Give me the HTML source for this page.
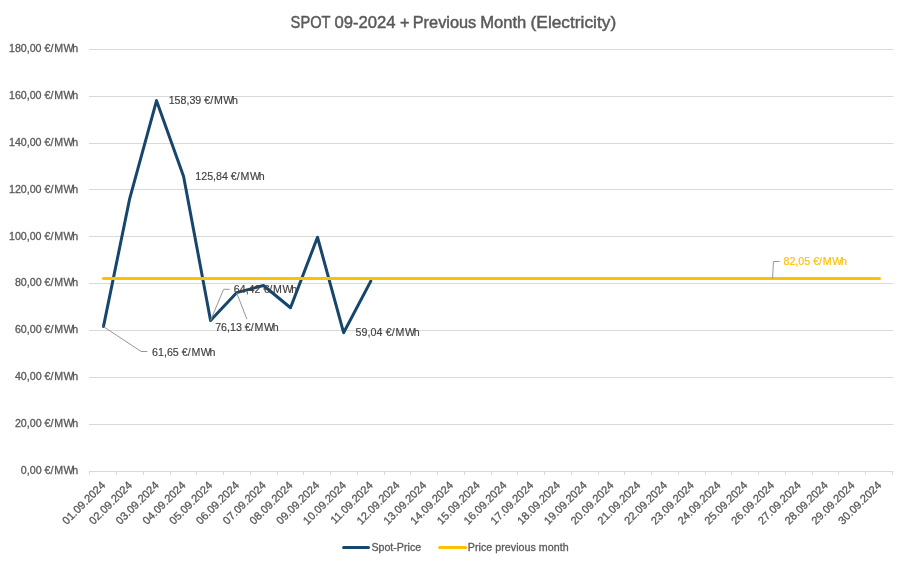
<!DOCTYPE html>
<html><head><meta charset="utf-8"><title>SPOT 09-2024 + Previous Month (Electricity)</title>
<style>
html,body{margin:0;padding:0;background:#fff;}
body{width:907px;height:567px;overflow:hidden;}
svg{display:block;font-family:"Liberation Sans",Arial,sans-serif;}
.ax{font-size:10.67px;fill:#595959;stroke:#595959;stroke-width:0.3px;}
.dl{font-size:10.67px;fill:#404040;stroke:#404040;stroke-width:0.15px;}
.grid{stroke:#d9d9d9;stroke-width:1;fill:none;}
.lead{stroke:#969696;stroke-width:1;fill:none;}
</style></head><body>
<svg width="907" height="567" viewBox="0 0 907 567">
<rect x="0" y="0" width="907" height="567" fill="#ffffff"/>
<text transform="translate(290.60,27.8) scale(0.9070,1)" font-size="16.2" fill="#595959" stroke="#595959" stroke-width="0.45">SPOT</text>
<text transform="translate(334.40,27.8) scale(1.0305,1)" font-size="16.2" fill="#595959" stroke="#595959" stroke-width="0.45">09-2024</text>
<text transform="translate(399.90,27.8) scale(1.0000,1)" font-size="16.2" fill="#595959" stroke="#595959" stroke-width="0.45">+</text>
<text transform="translate(412.70,27.8) scale(1.0098,1)" font-size="16.2" fill="#595959" stroke="#595959" stroke-width="0.45">Previous</text>
<text transform="translate(480.20,27.8) scale(1.0256,1)" font-size="16.2" fill="#595959" stroke="#595959" stroke-width="0.45">Month</text>
<text transform="translate(530.60,27.8) scale(1.0692,1)" font-size="16.2" fill="#595959" stroke="#595959" stroke-width="0.45">(Electricity)</text>
<line class="grid" x1="89.00" y1="471.50" x2="893.00" y2="471.50"/>
<text class="ax" x="78.3" y="473.80" text-anchor="end">0,00 €/<tspan dx="0.8">M</tspan><tspan dx="0.5">W</tspan><tspan dx="-1.3">h</tspan></text>
<line class="grid" x1="89.00" y1="424.50" x2="893.00" y2="424.50"/>
<text class="ax" x="78.3" y="426.80" text-anchor="end">20,00 €/<tspan dx="0.8">M</tspan><tspan dx="0.5">W</tspan><tspan dx="-1.3">h</tspan></text>
<line class="grid" x1="89.00" y1="377.50" x2="893.00" y2="377.50"/>
<text class="ax" x="78.3" y="379.80" text-anchor="end">40,00 €/<tspan dx="0.8">M</tspan><tspan dx="0.5">W</tspan><tspan dx="-1.3">h</tspan></text>
<line class="grid" x1="89.00" y1="330.50" x2="893.00" y2="330.50"/>
<text class="ax" x="78.3" y="332.80" text-anchor="end">60,00 €/<tspan dx="0.8">M</tspan><tspan dx="0.5">W</tspan><tspan dx="-1.3">h</tspan></text>
<line class="grid" x1="89.00" y1="283.50" x2="893.00" y2="283.50"/>
<text class="ax" x="78.3" y="285.80" text-anchor="end">80,00 €/<tspan dx="0.8">M</tspan><tspan dx="0.5">W</tspan><tspan dx="-1.3">h</tspan></text>
<line class="grid" x1="89.00" y1="236.50" x2="893.00" y2="236.50"/>
<text class="ax" x="78.3" y="239.80" text-anchor="end">100,00 €/<tspan dx="0.8">M</tspan><tspan dx="0.5">W</tspan><tspan dx="-1.3">h</tspan></text>
<line class="grid" x1="89.00" y1="189.50" x2="893.00" y2="189.50"/>
<text class="ax" x="78.3" y="192.80" text-anchor="end">120,00 €/<tspan dx="0.8">M</tspan><tspan dx="0.5">W</tspan><tspan dx="-1.3">h</tspan></text>
<line class="grid" x1="89.00" y1="143.50" x2="893.00" y2="143.50"/>
<text class="ax" x="78.3" y="145.80" text-anchor="end">140,00 €/<tspan dx="0.8">M</tspan><tspan dx="0.5">W</tspan><tspan dx="-1.3">h</tspan></text>
<line class="grid" x1="89.00" y1="96.50" x2="893.00" y2="96.50"/>
<text class="ax" x="78.3" y="98.80" text-anchor="end">160,00 €/<tspan dx="0.8">M</tspan><tspan dx="0.5">W</tspan><tspan dx="-1.3">h</tspan></text>
<line class="grid" x1="89.00" y1="49.50" x2="893.00" y2="49.50"/>
<text class="ax" x="78.3" y="51.80" text-anchor="end">180,00 €/<tspan dx="0.8">M</tspan><tspan dx="0.5">W</tspan><tspan dx="-1.3">h</tspan></text>
<line class="grid" x1="89.50" y1="471.00" x2="89.50" y2="475.00"/>
<line class="grid" x1="116.50" y1="471.00" x2="116.50" y2="475.00"/>
<line class="grid" x1="143.50" y1="471.00" x2="143.50" y2="475.00"/>
<line class="grid" x1="170.50" y1="471.00" x2="170.50" y2="475.00"/>
<line class="grid" x1="196.50" y1="471.00" x2="196.50" y2="475.00"/>
<line class="grid" x1="223.50" y1="471.00" x2="223.50" y2="475.00"/>
<line class="grid" x1="250.50" y1="471.00" x2="250.50" y2="475.00"/>
<line class="grid" x1="277.50" y1="471.00" x2="277.50" y2="475.00"/>
<line class="grid" x1="303.50" y1="471.00" x2="303.50" y2="475.00"/>
<line class="grid" x1="330.50" y1="471.00" x2="330.50" y2="475.00"/>
<line class="grid" x1="357.50" y1="471.00" x2="357.50" y2="475.00"/>
<line class="grid" x1="384.50" y1="471.00" x2="384.50" y2="475.00"/>
<line class="grid" x1="410.50" y1="471.00" x2="410.50" y2="475.00"/>
<line class="grid" x1="437.50" y1="471.00" x2="437.50" y2="475.00"/>
<line class="grid" x1="464.50" y1="471.00" x2="464.50" y2="475.00"/>
<line class="grid" x1="491.50" y1="471.00" x2="491.50" y2="475.00"/>
<line class="grid" x1="517.50" y1="471.00" x2="517.50" y2="475.00"/>
<line class="grid" x1="544.50" y1="471.00" x2="544.50" y2="475.00"/>
<line class="grid" x1="571.50" y1="471.00" x2="571.50" y2="475.00"/>
<line class="grid" x1="598.50" y1="471.00" x2="598.50" y2="475.00"/>
<line class="grid" x1="624.50" y1="471.00" x2="624.50" y2="475.00"/>
<line class="grid" x1="651.50" y1="471.00" x2="651.50" y2="475.00"/>
<line class="grid" x1="678.50" y1="471.00" x2="678.50" y2="475.00"/>
<line class="grid" x1="705.50" y1="471.00" x2="705.50" y2="475.00"/>
<line class="grid" x1="731.50" y1="471.00" x2="731.50" y2="475.00"/>
<line class="grid" x1="758.50" y1="471.00" x2="758.50" y2="475.00"/>
<line class="grid" x1="785.50" y1="471.00" x2="785.50" y2="475.00"/>
<line class="grid" x1="812.50" y1="471.00" x2="812.50" y2="475.00"/>
<line class="grid" x1="838.50" y1="471.00" x2="838.50" y2="475.00"/>
<line class="grid" x1="865.50" y1="471.00" x2="865.50" y2="475.00"/>
<line class="grid" x1="892.50" y1="471.00" x2="892.50" y2="475.00"/>
<text class="ax" style="font-size:11.1px" text-anchor="end" transform="translate(106.09,485.90) rotate(-45)">01.09.2024</text>
<text class="ax" style="font-size:11.1px" text-anchor="end" transform="translate(132.84,485.90) rotate(-45)">02.09.2024</text>
<text class="ax" style="font-size:11.1px" text-anchor="end" transform="translate(159.60,485.90) rotate(-45)">03.09.2024</text>
<text class="ax" style="font-size:11.1px" text-anchor="end" transform="translate(186.35,485.90) rotate(-45)">04.09.2024</text>
<text class="ax" style="font-size:11.1px" text-anchor="end" transform="translate(213.11,485.90) rotate(-45)">05.09.2024</text>
<text class="ax" style="font-size:11.1px" text-anchor="end" transform="translate(239.86,485.90) rotate(-45)">06.09.2024</text>
<text class="ax" style="font-size:11.1px" text-anchor="end" transform="translate(266.62,485.90) rotate(-45)">07.09.2024</text>
<text class="ax" style="font-size:11.1px" text-anchor="end" transform="translate(293.38,485.90) rotate(-45)">08.09.2024</text>
<text class="ax" style="font-size:11.1px" text-anchor="end" transform="translate(320.13,485.90) rotate(-45)">09.09.2024</text>
<text class="ax" style="font-size:11.1px" text-anchor="end" transform="translate(346.89,485.90) rotate(-45)">10.09.2024</text>
<text class="ax" style="font-size:11.1px" text-anchor="end" transform="translate(373.64,485.90) rotate(-45)">11.09.2024</text>
<text class="ax" style="font-size:11.1px" text-anchor="end" transform="translate(400.40,485.90) rotate(-45)">12.09.2024</text>
<text class="ax" style="font-size:11.1px" text-anchor="end" transform="translate(427.16,485.90) rotate(-45)">13.09.2024</text>
<text class="ax" style="font-size:11.1px" text-anchor="end" transform="translate(453.91,485.90) rotate(-45)">14.09.2024</text>
<text class="ax" style="font-size:11.1px" text-anchor="end" transform="translate(480.67,485.90) rotate(-45)">15.09.2024</text>
<text class="ax" style="font-size:11.1px" text-anchor="end" transform="translate(507.43,485.90) rotate(-45)">16.09.2024</text>
<text class="ax" style="font-size:11.1px" text-anchor="end" transform="translate(534.18,485.90) rotate(-45)">17.09.2024</text>
<text class="ax" style="font-size:11.1px" text-anchor="end" transform="translate(560.94,485.90) rotate(-45)">18.09.2024</text>
<text class="ax" style="font-size:11.1px" text-anchor="end" transform="translate(587.69,485.90) rotate(-45)">19.09.2024</text>
<text class="ax" style="font-size:11.1px" text-anchor="end" transform="translate(614.45,485.90) rotate(-45)">20.09.2024</text>
<text class="ax" style="font-size:11.1px" text-anchor="end" transform="translate(641.21,485.90) rotate(-45)">21.09.2024</text>
<text class="ax" style="font-size:11.1px" text-anchor="end" transform="translate(667.96,485.90) rotate(-45)">22.09.2024</text>
<text class="ax" style="font-size:11.1px" text-anchor="end" transform="translate(694.72,485.90) rotate(-45)">23.09.2024</text>
<text class="ax" style="font-size:11.1px" text-anchor="end" transform="translate(721.47,485.90) rotate(-45)">24.09.2024</text>
<text class="ax" style="font-size:11.1px" text-anchor="end" transform="translate(748.23,485.90) rotate(-45)">25.09.2024</text>
<text class="ax" style="font-size:11.1px" text-anchor="end" transform="translate(774.99,485.90) rotate(-45)">26.09.2024</text>
<text class="ax" style="font-size:11.1px" text-anchor="end" transform="translate(801.74,485.90) rotate(-45)">27.09.2024</text>
<text class="ax" style="font-size:11.1px" text-anchor="end" transform="translate(828.50,485.90) rotate(-45)">28.09.2024</text>
<text class="ax" style="font-size:11.1px" text-anchor="end" transform="translate(855.25,485.90) rotate(-45)">29.09.2024</text>
<text class="ax" style="font-size:11.1px" text-anchor="end" transform="translate(882.01,485.90) rotate(-45)">30.09.2024</text>
<polyline points="103.45,326.60 129.70,198.57 156.55,100.65 183.60,176.45 210.55,320.41 236.60,292.66 263.50,285.51 290.50,307.76 317.50,237.25 343.60,332.72 370.80,281.08" fill="none" stroke="#16466b" stroke-width="3" stroke-linejoin="round" stroke-linecap="round"/>
<line x1="103.39" y1="278.50" x2="879.42" y2="278.50" stroke="#ffc000" stroke-width="3" stroke-linecap="round"/>
<polyline class="lead" points="103.45,326.60 141.2,351.5 147.4,351.5"/>
<polyline class="lead" points="210.55,320.41 223.6,289.3 229.7,289.3"/>
<polyline class="lead" points="236.60,292.66 246.9,319.2"/>
<polyline class="lead" points="772.63,278.50 773.4,261.5 779.6,261.5"/>
<text class="dl" x="168.7" y="103.5">158,39 €/<tspan dx="0.8">M</tspan><tspan dx="0.5">W</tspan><tspan dx="-1.3">h</tspan></text>
<text class="dl" x="195.3" y="180">125,84 €/<tspan dx="0.8">M</tspan><tspan dx="0.5">W</tspan><tspan dx="-1.3">h</tspan></text>
<text class="dl" x="233.8" y="292.5">64,42 €/<tspan dx="0.8">M</tspan><tspan dx="0.5">W</tspan><tspan dx="-1.3">h</tspan></text>
<text class="dl" x="215.2" y="330.7">76,13 €/<tspan dx="0.8">M</tspan><tspan dx="0.5">W</tspan><tspan dx="-1.3">h</tspan></text>
<text class="dl" x="355.6" y="335.8" style="letter-spacing:0.07px">59,04 €/<tspan dx="0.8">M</tspan><tspan dx="0.5">W</tspan><tspan dx="-1.3">h</tspan></text>
<text class="dl" x="152.1" y="356.2">61,65 €/<tspan dx="0.8">M</tspan><tspan dx="0.5">W</tspan><tspan dx="-1.3">h</tspan></text>
<text class="dl" x="783.5" y="264.8" style="fill:#ffc000;stroke:#ffc000">82,05 €/<tspan dx="0.8">M</tspan><tspan dx="0.5">W</tspan><tspan dx="-1.3">h</tspan></text>
<line x1="343.6" y1="547.5" x2="368.5" y2="547.5" stroke="#16466b" stroke-width="3" stroke-linecap="round"/>
<text class="ax" x="371.4" y="551.2">Spot-Price</text>
<line x1="439.6" y1="547.5" x2="465.6" y2="547.5" stroke="#ffc000" stroke-width="3" stroke-linecap="round"/>
<text class="ax" x="467.8" y="551.2" style="letter-spacing:0.04px">Price previous month</text>
</svg></body></html>
